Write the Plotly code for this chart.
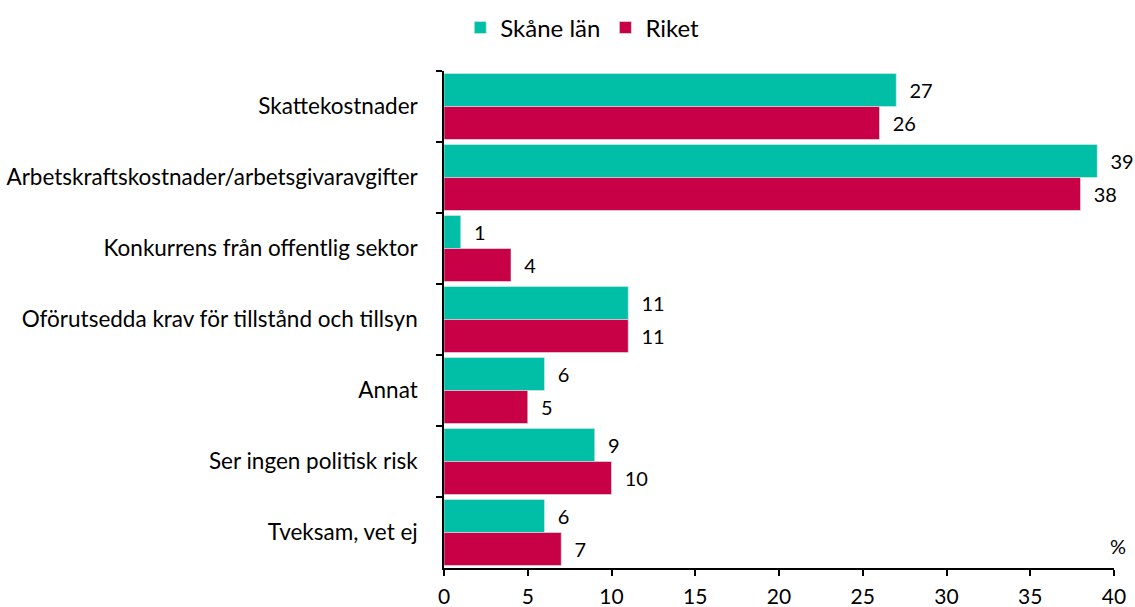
import plotly.graph_objects as go

categories = [
    "Skattekostnader",
    "Arbetskraftskostnader/arbetsgivaravgifter",
    "Konkurrens från offentlig sektor",
    "Oförutsedda krav för tillstånd och tillsyn",
    "Annat",
    "Ser ingen politisk risk",
    "Tveksam, vet ej",
]
skane = [27, 39, 1, 11, 6, 9, 6]
riket = [26, 38, 4, 11, 5, 10, 7]
x_ticks = [0, 5, 10, 15, 20, 25, 30, 35, 40]

FONT = "Lato, Carlito, Calibri, sans-serif"

fig = go.Figure()
fig.add_trace(go.Bar(
    y=categories, x=skane, name="Skåne län", orientation="h",
    marker=dict(color="#00BFA6", line=dict(color="#D8EEEE", width=0.6)),
    text=skane, texttemplate="  %{x}", textposition="outside",
    textfont=dict(size=20, color="#000000", family=FONT), cliponaxis=False,
))
fig.add_trace(go.Bar(
    y=categories, x=riket, name="Riket", orientation="h",
    marker=dict(color="#C80046", line=dict(color="#D8EEEE", width=0.6)),
    text=riket, texttemplate="  %{x}", textposition="outside",
    textfont=dict(size=20, color="#000000", family=FONT), cliponaxis=False,
))

fig.update_layout(
    width=1135, height=607,
    margin=dict(l=444, r=21, t=71, b=39),
    barmode="group", bargap=0.07, bargroupgap=0,
    plot_bgcolor="white", paper_bgcolor="white",
    font=dict(family=FONT, size=20, color="#000000"),
    showlegend=True,
    legend=dict(orientation="h", x=0.513, xref="container", xanchor="center",
                y=0.954, yref="container", yanchor="middle",
                font=dict(size=24), itemwidth=30, traceorder="normal"),
    xaxis=dict(range=[0, 40], tickvals=x_ticks, showgrid=False, zeroline=False,
               showline=True, linecolor="#000000", linewidth=1.5,
               ticks="outside", ticklen=6, tickcolor="#000000", tickwidth=1.5,
               ticklabelstandoff=3, tickfont=dict(size=21), automargin=False),
    yaxis=dict(autorange="reversed", showgrid=False, zeroline=False,
               showline=True, linecolor="#000000", linewidth=1.5,
               ticks="outside", ticklen=6, tickcolor="#000000", tickwidth=1.5,
               tickson="boundaries", ticklabelstandoff=20,
               tickfont=dict(size=22.5), automargin=False),
)
fig.add_annotation(text="%", x=1.0, xref="paper", y=0, yref="paper",
                   xanchor="center", yanchor="bottom", yshift=8, xshift=4,
                   showarrow=False, font=dict(size=20))

fig.write_html("out.html", config={"displayModeBar": False},
               post_script="document.body.style.margin='0px';document.body.style.overflow='hidden';")
